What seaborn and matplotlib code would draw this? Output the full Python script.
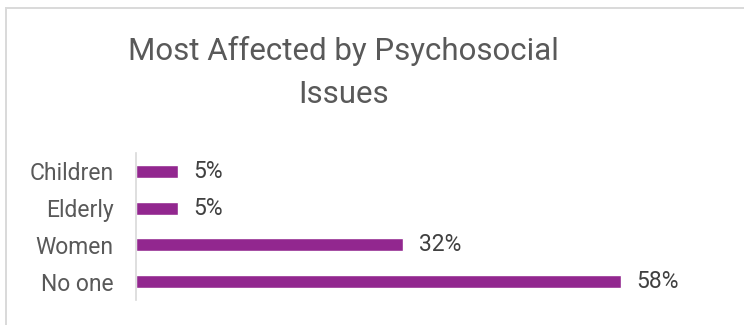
import matplotlib
matplotlib.use("Agg")
import matplotlib.pyplot as plt
import seaborn as sns
import pandas as pd
from matplotlib.patches import Rectangle

# Survey results
groups = ["Children", "Elderly", "Women", "No one"]
shares = [5, 5, 32, 58]
title = "Most Affected by Psychosocial\nIssues"

sns.set_theme(style="white")
plt.rcParams["font.family"] = ["Roboto", "DejaVu Sans"]

W, H = 744, 325
fig = plt.figure(figsize=(W / 100, H / 100), dpi=100)
fig.patch.set_facecolor("white")

# Chart-area frame (light gray outline)
fig.patches.append(Rectangle((6.5 / W, -0.2), 1.5, 1.2 - 7.5 / H,
                             transform=fig.transFigure, fill=False,
                             edgecolor="#D9D9D9", linewidth=1.4))

ax = fig.add_axes([136 / W, 25 / H, (721 - 136) / W, 147 / H])
df = pd.DataFrame({"group": groups, "share": shares})
bar_color = "#92278F"
sns.barplot(data=df, x="share", y="group", orient="h", color=bar_color,
            width=0.36, saturation=1, ax=ax)

ax.set_xlim(0, 70)
ax.set_xlabel("")
ax.set_ylabel("")
ax.set_xticks([])
for s in ["top", "right", "bottom"]:
    ax.spines[s].set_visible(False)
ax.spines["left"].set_color("#D9D9D9")
ax.spines["left"].set_linewidth(1.2)
ax.tick_params(axis="y", length=0, pad=16, labelsize=16.5, labelcolor="#595959")

for i, v in enumerate(shares):
    ax.annotate(f"{v}%", xy=(v, i), xytext=(11, 0), textcoords="offset points",
                va="center", ha="left", fontsize=16.5, color="#404040")

fig.text(343.5 / W, 1 - 36 / H, title, ha="center", va="top",
         fontsize=22.5, color="#595959", linespacing=1.6)

fig.savefig("out.png", dpi=100)
